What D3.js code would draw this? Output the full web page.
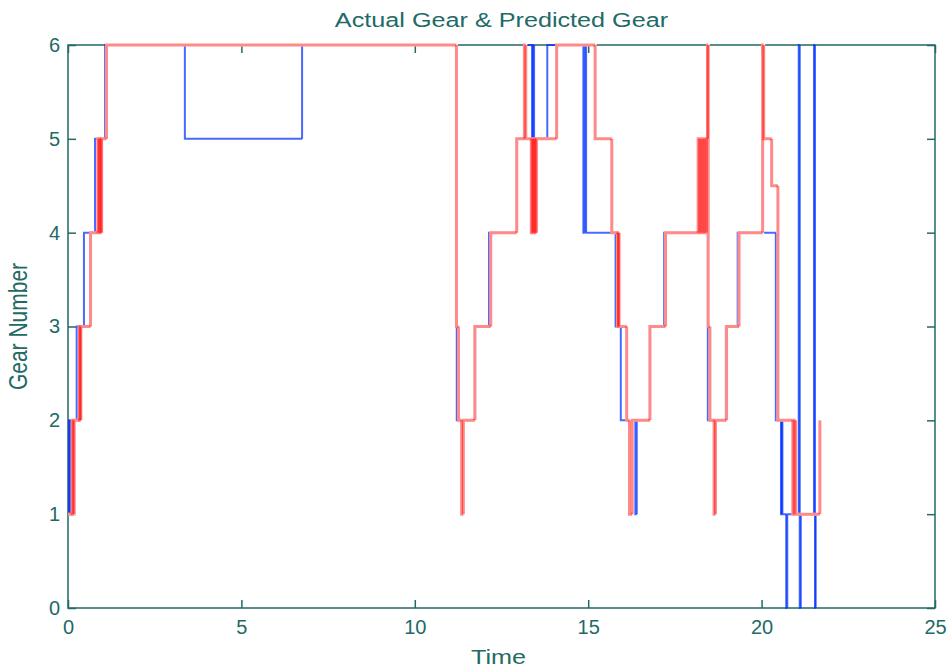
<!DOCTYPE html>
<html>
<head>
<meta charset="utf-8">
<script src="https://cdn.jsdelivr.net/npm/d3@7"></script>
<style>
  body { margin: 0; background: #fff; }
  text { font-family: "Liberation Sans", Arial, sans-serif; fill: #216a66; }
</style>
</head>
<body>
<svg id="chart" width="949" height="671"></svg>
<script>
// Axis ticks
const xTicks = [0, 5, 10, 15, 20, 25];
const yTicks = [0, 1, 2, 3, 4, 5, 6];

// Actual gear (step series: gear held from each time until the next)
const actualTime = [0, 0.03, 0.05, 0.07, 0.25, 0.46, 0.78, 1.07, 3.37, 6.75,
  11.21, 11.74, 12.14, 12.94, 13.17, 13.38, 13.41, 13.44, 13.82,
  14.86, 14.90, 14.94, 15.79, 15.94, 16.36, 16.40, 16.78, 17.19,
  18.45, 18.97, 19.31, 20.41, 20.56, 20.58, 20.60, 20.71, 20.74,
  21.07, 21.10, 21.13, 21.51, 21.54, 21.56];
const actualGear = [1, 2, 1, 2, 3, 4, 5, 6, 5, 6,
  2, 3, 4, 5, 6, 5, 6, 5, 6,
  4, 6, 4, 3, 2, 1, 2, 3, 4,
  2, 3, 4, 2, 1, 2, 1, 0, 1,
  6, 0, 1, 6, 0, 1];

// Predicted gear
const predictedTime = [0, 0.12, 0.15, 0.18, 0.33, 0.35, 0.37, 0.65, 0.86, 0.89,
  0.92, 0.95, 0.97, 1.11, 11.20, 11.26, 11.35, 11.40, 11.73, 12.19,
  12.94, 13.16, 13.20, 13.36, 13.39, 13.42, 13.45, 13.48, 13.51, 14.09,
  15.20, 15.68, 15.85, 15.87, 15.89, 16.11, 16.19, 16.27, 16.78, 17.23,
  18.17, 18.21, 18.25, 18.29, 18.33, 18.37, 18.41, 18.44, 18.46, 18.51,
  18.63, 18.67, 18.99, 19.35, 20.03, 20.06, 20.29, 20.47, 20.90, 20.94,
  20.98, 21.68];
const predictedGear = [1, 2, 1, 2, 3, 2, 3, 4, 5, 4,
  5, 4, 5, 6, 3, 2, 1, 2, 3, 4,
  5, 6, 5, 4, 5, 4, 5, 4, 5, 6,
  5, 4, 3, 4, 3, 2, 1, 2, 3, 4,
  5, 4, 5, 4, 5, 4, 5, 6, 3, 2,
  1, 2, 3, 4, 6, 5, 4.5, 2, 1, 2,
  1, 2];

const W = 949, H = 671;
const margin = { top: 45, right: 14, bottom: 63, left: 68 };
const svg = d3.select("#chart");

const x = d3.scaleLinear().domain([0, 25]).range([margin.left, W - margin.right]);
const y = d3.scaleLinear().domain([0, 6]).range([H - margin.bottom, margin.top]);

const axisColor = "#216a66";
const fmt = d3.format("d");

// Frame and inward ticks on all four sides
const frame = svg.append("g");
frame.append("rect")
  .attr("x", x(0)).attr("y", y(6))
  .attr("width", x(25) - x(0)).attr("height", y(0) - y(6))
  .attr("fill", "none").attr("stroke", axisColor).attr("stroke-width", 1.5);

const tickLen = 8;
const axes = [
  { gen: d3.axisBottom(x).tickValues(xTicks), tr: `translate(0,${y(0)})`, labels: true, pad: 12 },
  { gen: d3.axisTop(x).tickValues(xTicks), tr: `translate(0,${y(6)})`, labels: false, pad: 12 },
  { gen: d3.axisLeft(y).tickValues(yTicks), tr: `translate(${x(0)},0)`, labels: true, pad: 8 },
  { gen: d3.axisRight(y).tickValues(yTicks), tr: `translate(${x(25)},0)`, labels: false, pad: 8 }
];
axes.forEach(a => {
  const g = svg.append("g").attr("transform", a.tr)
    .call(a.gen.tickFormat(fmt).tickSizeInner(-tickLen).tickSizeOuter(0).tickPadding(a.pad));
  g.select(".domain").remove();
  g.selectAll(".tick line").attr("stroke", axisColor).attr("stroke-width", 1.5);
  if (!a.labels) g.selectAll(".tick text").remove();
  else g.selectAll(".tick text")
    .attr("font-size", 20)
    .attr("fill", axisColor)
    .style("font-family", "'Liberation Sans', Arial, sans-serif");
});

// Builds L-shaped pieces of a step series so overlapping strokes deepen in colour
function stepPieces(ts, gs) {
  const pieces = [];
  for (let i = 0; i < ts.length; i++) {
    const pts = [];
    if (i > 0) pts.push([ts[i], gs[i - 1]]);
    pts.push([ts[i], gs[i]]);
    if (i < ts.length - 1) pts.push([ts[i + 1], gs[i]]);
    pieces.push(pts);
  }
  return pieces;
}
const seg = d3.line().x(d => x(d[0])).y(d => y(d[1]));
const stepLine = d3.line().x(d => x(d[0])).y(d => y(d[1])).curve(d3.curveStepAfter);

const predicted = predictedTime.map((t, i) => [t, predictedGear[i]]);

// Actual gear: blue
svg.append("g").selectAll("path")
  .data(stepPieces(actualTime, actualGear))
  .join("path")
  .attr("d", seg)
  .attr("fill", "none")
  .attr("stroke", "#0030ff")
  .attr("stroke-opacity", 0.72)
  .attr("stroke-width", 2);

// Predicted gear: red, drawn over the actual series
svg.append("path")
  .datum(predicted)
  .attr("d", stepLine)
  .attr("fill", "none")
  .attr("stroke", "#fff")
  .attr("stroke-width", 3);
svg.append("g").selectAll("path")
  .data(stepPieces(predictedTime, predictedGear))
  .join("path")
  .attr("d", seg)
  .attr("fill", "none")
  .attr("stroke", "#ff0000")
  .attr("stroke-opacity", 0.46)
  .attr("stroke-width", 3);

// Titles, with the horizontal stretch of the original figure
const cx = (x(0) + x(25)) / 2;
svg.append("text")
  .attr("transform", `translate(${cx},27) scale(1.2,1)`)
  .attr("text-anchor", "middle").attr("font-size", 21)
  .text("Actual Gear & Predicted Gear");
svg.append("text")
  .attr("transform", `translate(${cx - 3},664) scale(1.2,1)`)
  .attr("text-anchor", "middle").attr("font-size", 21)
  .text("Time");
svg.append("text")
  .attr("transform", `translate(27,${(y(0) + y(6)) / 2}) rotate(-90) scale(1,1.2)`)
  .attr("text-anchor", "middle").attr("font-size", 21)
  .text("Gear Number");
</script>
</body>
</html>
